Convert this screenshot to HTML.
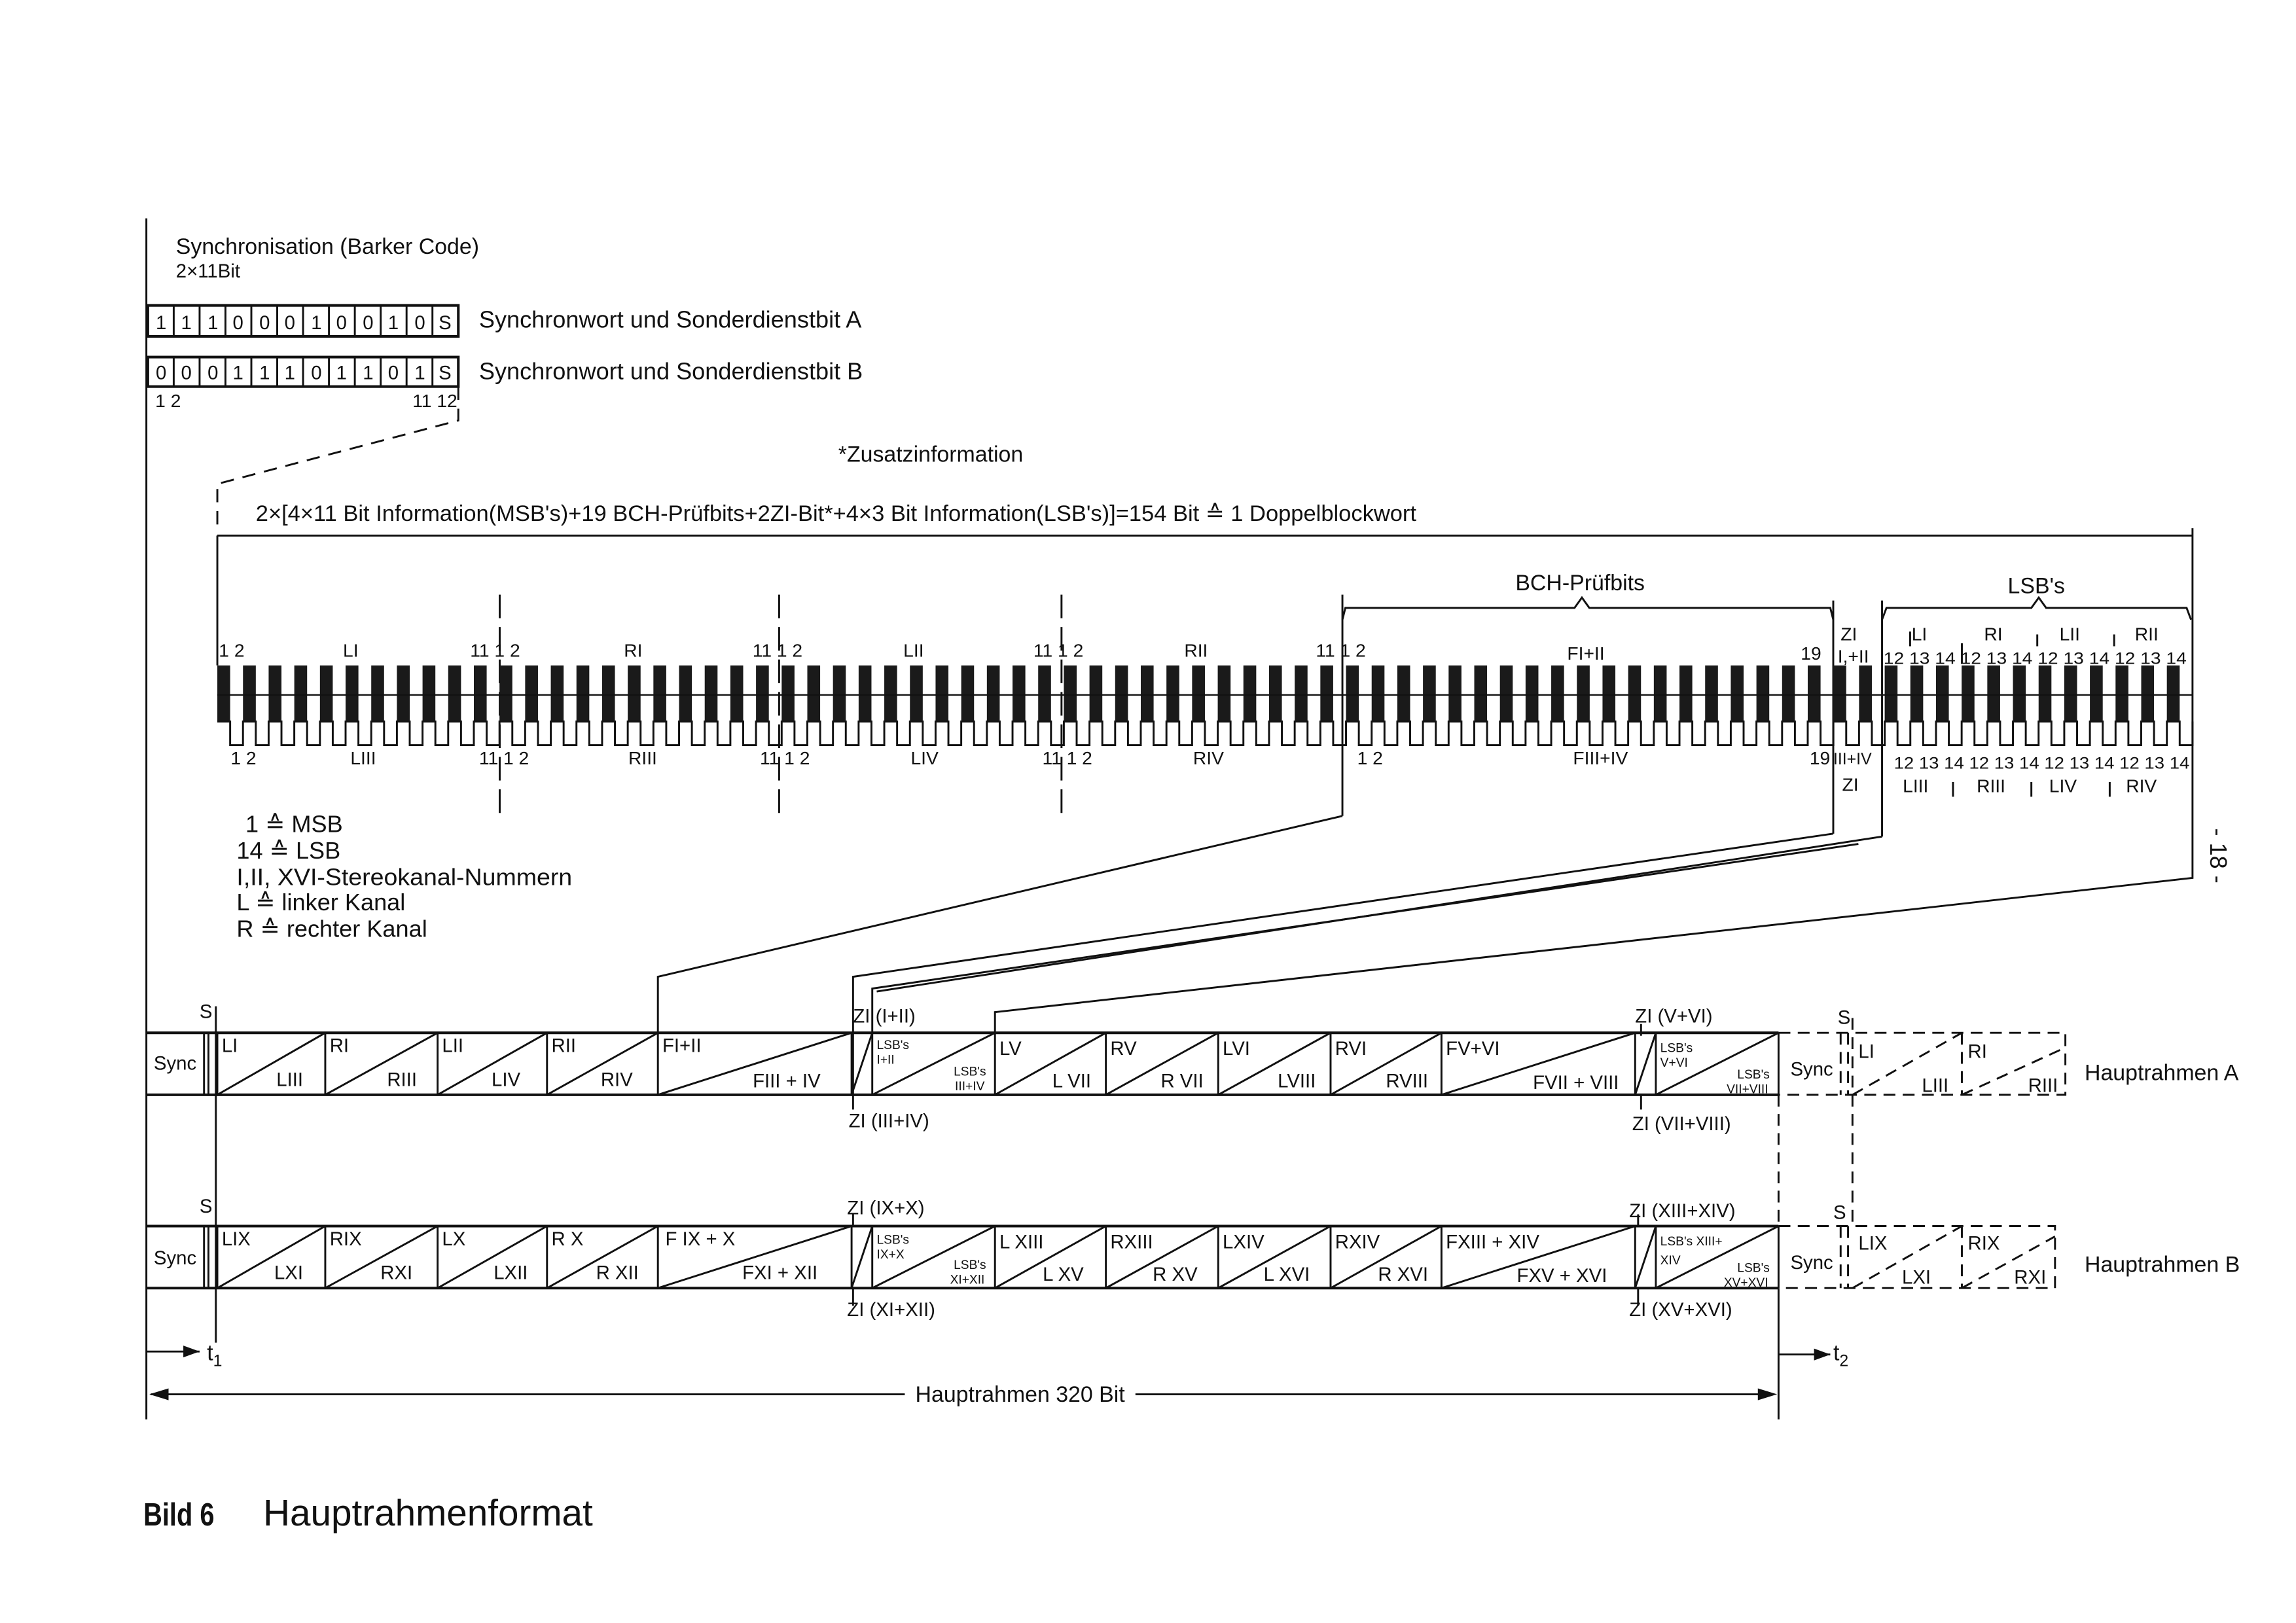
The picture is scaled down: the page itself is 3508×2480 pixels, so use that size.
<!DOCTYPE html>
<html><head><meta charset="utf-8"><style>
html,body{margin:0;padding:0;background:#fff;}
svg{display:block;}
text{font-family:"Liberation Sans Narrow","Liberation Sans",sans-serif;fill:#111;}
</style></head><body>
<svg id="s" xmlns="http://www.w3.org/2000/svg" width="3508" height="2480" viewBox="0 0 1553 1100" preserveAspectRatio="none">
<g stroke="#111" fill="none" stroke-width="1.3" id="g">
<line x1="99" y1="148" x2="99" y2="962"/>
<rect x="100" y="207" width="210" height="21" stroke-width="1.8"/>
<rect x="100" y="242" width="210" height="20" stroke-width="1.8"/>
<path d="M310 262 L310 285 L147 328 L147 360" stroke-dasharray="9 6"/>
<line x1="147" y1="363" x2="1483" y2="363"/>
<line x1="147" y1="363" x2="147" y2="451"/>
<line x1="1483" y1="358" x2="1483" y2="505"/>
<g stroke-dasharray="16 6">
<line x1="338" y1="403" x2="338" y2="553"/>
<line x1="527" y1="403" x2="527" y2="553"/>
<line x1="718" y1="403" x2="718" y2="553"/>
</g>
<path d="M908 420 L910 412 L1065 412 L1070 405 L1075 412 L1238 412 L1240 420"/>
<path d="M1273 420 L1276 412 L1374 412 L1379 405 L1384 412 L1479 412 L1482 420"/>
<line x1="908" y1="403" x2="908" y2="553"/>
<line x1="1240" y1="407" x2="1240" y2="565"/>
<line x1="1273" y1="407" x2="1273" y2="567"/>
<line x1="1292" y1="428" x2="1292" y2="438"/><line x1="1327" y1="436" x2="1327" y2="450"/><line x1="1378" y1="430" x2="1378" y2="438"/><line x1="1430" y1="430" x2="1430" y2="438"/>
<line x1="1321" y1="530" x2="1321" y2="540"/><line x1="1374" y1="530" x2="1374" y2="540"/><line x1="1427" y1="530" x2="1427" y2="540"/>
<path d="M908 553 L445 662 L445 700"/>
<path d="M1240 565 L577 662 L577 742"/>
<path d="M1257 572 L590 670 L590 700"/>
<path d="M1273 567 L593 672"/>
<path d="M1483 505 L1483 595 L673 686 L673 700"/>
<line x1="146" y1="682" x2="146" y2="910"/>
<line x1="141" y1="700" x2="141" y2="742"/>
<line x1="141" y1="831" x2="141" y2="873"/>
<line x1="577" y1="742" x2="577" y2="752"/><line x1="577" y1="823" x2="577" y2="831"/><line x1="577" y1="873" x2="577" y2="885"/>
<line x1="1110" y1="694" x2="1110" y2="702"/><line x1="1110" y1="742" x2="1110" y2="752"/><line x1="1108" y1="823" x2="1108" y2="831"/><line x1="1108" y1="873" x2="1108" y2="885"/>
<g stroke-dasharray="8 5">
<line x1="1203" y1="742" x2="1203" y2="831"/>
<line x1="1253" y1="690" x2="1253" y2="831"/>
<path d="M1203 700 L1397 700 L1397 742 L1203 742"/>
<path d="M1203 831 L1390 831 L1390 873 L1203 873"/>
<line x1="1245" y1="700" x2="1245" y2="742"/><line x1="1250" y1="700" x2="1250" y2="742"/>
<line x1="1245" y1="831" x2="1245" y2="873"/><line x1="1250" y1="831" x2="1250" y2="873"/>
<line x1="1327" y1="700" x2="1327" y2="742"/><line x1="1327" y1="831" x2="1327" y2="873"/>
<line x1="1253" y1="742" x2="1327" y2="700"/><line x1="1327" y1="742" x2="1397" y2="710"/>
<line x1="1253" y1="873" x2="1327" y2="831"/><line x1="1327" y1="873" x2="1390" y2="838"/>
</g>
<line x1="1203" y1="873" x2="1203" y2="962"/>
<line x1="99" y1="916" x2="135" y2="916"/>
<line x1="1203" y1="918" x2="1238" y2="918"/>
<line x1="102" y1="945" x2="612" y2="945"/>
<line x1="768" y1="945" x2="1200" y2="945"/>
</g>
<g fill="#111">
<path d="M135 916 L124 912 L124 920 Z"/>
<path d="M1238 918 L1227 914 L1227 922 Z"/>
<path d="M101 945 L114 941 L114 949 Z"/>
<path d="M1202 945 L1189 941 L1189 949 Z"/>
</g>

<g font-size="16">
<text x="119" y="172" font-size="15">Synchronisation (Barker Code)</text>
<text x="119" y="188" font-size="13">2×11Bit</text>
<text x="324" y="222">Synchronwort und Sonderdienstbit A</text>
<text x="324" y="257">Synchronwort und Sonderdienstbit B</text>
<text x="567" y="313" font-size="15">*Zusatzinformation</text>
<text x="173" y="353" font-size="15" textLength="785" lengthAdjust="spacingAndGlyphs">2×[4×11 Bit Information(MSB's)+19 BCH-Prüfbits+2ZI-Bit*+4×3 Bit Information(LSB's)]=154 Bit ≙ 1 Doppelblockwort</text>
<text x="1025" y="400" font-size="15">BCH-Prüfbits</text>
<text x="1358" y="402" font-size="15">LSB's</text>
</g>
<g font-size="12.5">
<text x="105" y="276">1  2</text><text x="279" y="276">11 12</text>
<text x="148" y="445">1  2</text><text x="232" y="445">LI</text>
<text x="318" y="445">11  1  2</text><text x="422" y="445">RI</text>
<text x="509" y="445">11  1  2</text><text x="611" y="445">LII</text>
<text x="699" y="445">11  1  2</text><text x="801" y="445">RII</text>
<text x="890" y="445">11  1  2</text><text x="1060" y="447">FI+II</text>
<text x="1218" y="447">19</text><text x="1245" y="434">ZI</text><text x="1243" y="449">I,+II</text>
<text x="1293" y="434">LI</text><text x="1342" y="434">RI</text><text x="1393" y="434">LII</text><text x="1444" y="434">RII</text>
<text x="1274" y="450" font-size="11" textLength="205" lengthAdjust="spacingAndGlyphs">12 13 14  12 13 14  12 13 14  12 13 14</text>
<text x="156" y="518">1  2</text><text x="237" y="518">LIII</text>
<text x="324" y="518">11  1  2</text><text x="425" y="518">RIII</text>
<text x="514" y="518">11  1  2</text><text x="616" y="518">LIV</text>
<text x="705" y="518">11  1  2</text><text x="807" y="518">RIV</text>
<text x="918" y="518">1  2</text><text x="1064" y="518">FIII+IV</text>
<text x="1224" y="518">19</text><text x="1240" y="518" font-size="11">III+IV</text><text x="1246" y="536">ZI</text>
<text x="1281" y="521" font-size="11" textLength="200" lengthAdjust="spacingAndGlyphs">12 13 14  12 13 14  12 13 14  12 13 14</text>
<text x="1287" y="537">LIII</text><text x="1337" y="537">RIII</text><text x="1386" y="537">LIV</text><text x="1438" y="537">RIV</text>
</g>
<g font-size="16">
<text x="166" y="564">1 ≙ MSB</text>
<text x="160" y="582">14 ≙ LSB</text>
<text x="160" y="600" textLength="227" lengthAdjust="spacingAndGlyphs">I,II,  XVI-Stereokanal-Nummern</text>
<text x="160" y="617">L ≙ linker Kanal</text>
<text x="160" y="635">R ≙ rechter Kanal</text>
<text transform="translate(1495,580) rotate(90)" font-size="16" text-anchor="middle">- 18 -</text>
</g>
<g font-size="13">
<text x="135" y="690">S</text><text x="135" y="822">S</text>
<text x="1243" y="694">S</text><text x="1240" y="826">S</text>
<text x="104" y="725">Sync</text><text x="104" y="857">Sync</text>
<text x="1211" y="729">Sync</text><text x="1211" y="860">Sync</text>
<text x="577" y="693">ZI (I+II)</text><text x="574" y="764">ZI (III+IV)</text>
<text x="1106" y="693">ZI (V+VI)</text><text x="1104" y="766">ZI (VII+VIII)</text>
<text x="573" y="823">ZI (IX+X)</text><text x="573" y="892">ZI (XI+XII)</text>
<text x="1102" y="825">ZI (XIII+XIV)</text><text x="1102" y="892">ZI (XV+XVI)</text>
<text x="1410" y="732" font-size="15">Hauptrahmen A</text>
<text x="1410" y="862" font-size="15">Hauptrahmen B</text>
<text x="140" y="922" font-size="15">t<tspan font-size="11" dy="4">1</tspan></text>
<text x="1240" y="922" font-size="15">t<tspan font-size="11" dy="4">2</tspan></text>
<text x="690" y="950" font-size="15" text-anchor="middle">Hauptrahmen 320 Bit</text>
<text x="150" y="713">LI</text><text x="205" y="736" text-anchor="end">LIII</text>
<text x="223" y="713">RI</text><text x="282" y="736" text-anchor="end">RIII</text>
<text x="299" y="713">LII</text><text x="352" y="736" text-anchor="end">LIV</text>
<text x="373" y="713">RII</text><text x="428" y="736" text-anchor="end">RIV</text>
<text x="448" y="713">FI+II</text><text x="555" y="737" text-anchor="end">FIII + IV</text>
<text x="676" y="715">LV</text><text x="738" y="737" text-anchor="end">L VII</text>
<text x="751" y="715">RV</text><text x="814" y="737" text-anchor="end">R VII</text>
<text x="827" y="715">LVI</text><text x="890" y="737" text-anchor="end">LVIII</text>
<text x="903" y="715">RVI</text><text x="966" y="737" text-anchor="end">RVIII</text>
<text x="978" y="715">FV+VI</text><text x="1095" y="738" text-anchor="end">FVII + VIII</text>
<text x="150" y="844">LIX</text><text x="205" y="867" text-anchor="end">LXI</text>
<text x="223" y="844">RIX</text><text x="279" y="867" text-anchor="end">RXI</text>
<text x="299" y="844">LX</text><text x="357" y="867" text-anchor="end">LXII</text>
<text x="373" y="844">R X</text><text x="432" y="867" text-anchor="end">R XII</text>
<text x="450" y="844">F IX + X</text><text x="553" y="867" text-anchor="end">FXI + XII</text>
<text x="676" y="846">L XIII</text><text x="733" y="868" text-anchor="end">L XV</text>
<text x="751" y="846">RXIII</text><text x="810" y="868" text-anchor="end">R XV</text>
<text x="827" y="846">LXIV</text><text x="886" y="868" text-anchor="end">L XVI</text>
<text x="903" y="846">RXIV</text><text x="966" y="868" text-anchor="end">R XVI</text>
<text x="978" y="846">FXIII + XIV</text><text x="1087" y="869" text-anchor="end">FXV + XVI</text>
<text x="1257" y="717">LI</text><text x="1318" y="740" text-anchor="end">LIII</text>
<text x="1331" y="717">RI</text><text x="1392" y="740" text-anchor="end">RIII</text>
<text x="1257" y="847">LIX</text><text x="1306" y="870" text-anchor="end">LXI</text>
<text x="1331" y="847">RIX</text><text x="1384" y="870" text-anchor="end">RXI</text>
</g>
<g font-size="8.5">
<text x="593" y="711">LSB's</text><text x="593" y="721">I+II</text><text x="667" y="729" text-anchor="end">LSB's</text><text x="666" y="739" text-anchor="end">III+IV</text>
<text x="1123" y="713">LSB's</text><text x="1123" y="723">V+VI</text><text x="1197" y="731" text-anchor="end">LSB's</text><text x="1196" y="741" text-anchor="end">VII+VIII</text>
<text x="593" y="843">LSB's</text><text x="593" y="853">IX+X</text><text x="667" y="860" text-anchor="end">LSB's</text><text x="666" y="870" text-anchor="end">XI+XII</text>
<text x="1123" y="844">LSB's XIII+</text><text x="1123" y="857">XIV</text><text x="1197" y="862" text-anchor="end">LSB's</text><text x="1196" y="872" text-anchor="end">XV+XVI</text>
</g>
<text x="97" y="1034" font-size="22" font-weight="bold" textLength="48" lengthAdjust="spacingAndGlyphs">Bild 6</text>
<text x="178" y="1034" font-size="25" textLength="223" lengthAdjust="spacingAndGlyphs">Hauptrahmenformat</text>
<g font-size="13" text-anchor="middle">
<text x="109" y="223">1</text><text x="126" y="223">1</text><text x="144" y="223">1</text><text x="161" y="223">0</text><text x="179" y="223">0</text><text x="196" y="223">0</text><text x="214" y="223">1</text><text x="231" y="223">0</text><text x="249" y="223">0</text><text x="266" y="223">1</text><text x="284" y="223">0</text><text x="301" y="223">S</text>
<text x="109" y="257">0</text><text x="126" y="257">0</text><text x="144" y="257">0</text><text x="161" y="257">1</text><text x="179" y="257">1</text><text x="196" y="257">1</text><text x="214" y="257">0</text><text x="231" y="257">1</text><text x="249" y="257">1</text><text x="266" y="257">0</text><text x="284" y="257">1</text><text x="301" y="257">S</text>
</g>
</svg>
<script>
(function(){
var NS="http://www.w3.org/2000/svg",g=document.getElementById('g');
function el(n,a){var e=document.createElementNS(NS,n);for(var k in a)e.setAttribute(k,a[k]);g.appendChild(e);return e;}
for(var i=1;i<12;i++){var x=100+i*17.5;el('line',{x1:x,y1:207,x2:x,y2:228});el('line',{x1:x,y1:242,x2:x,y2:262});}
var N=77,x0=147,W=(1483-147)/N,d="M147 489";
for(var i=0;i<N;i++){var x=x0+i*W,bw=W*0.5;
el('rect',{x:x,y:451,width:bw,height:38,fill:'#1a1a1a',stroke:'none'});
d+=" L"+(x+bw)+" 489 L"+(x+bw)+" 505 L"+(x+W)+" 505 L"+(x+W)+" 489";}
el('path',{d:d});
el('line',{x1:147,y1:471,x2:1483,y2:471,'stroke-width':1});
function frame(y){var y2=y+42;
el('line',{x1:99,y1:y,x2:1203,y2:y,'stroke-width':1.8});
el('line',{x1:99,y1:y2,x2:1203,y2:y2,'stroke-width':1.8});
el('line',{x1:138,y1:y,x2:138,y2:y2});
var b=[147,220,296,370,445,576,590,673,748,824,900,975,1106,1120,1203];
for(var i=0;i<b.length;i++){el('line',{x1:b[i],y1:y,x2:b[i],y2:y2});}
for(var i=0;i<b.length-1;i++){el('line',{x1:b[i],y1:y2,x2:b[i+1],y2:y});}
}
frame(700);frame(831);
})();
</script>
</body></html>
